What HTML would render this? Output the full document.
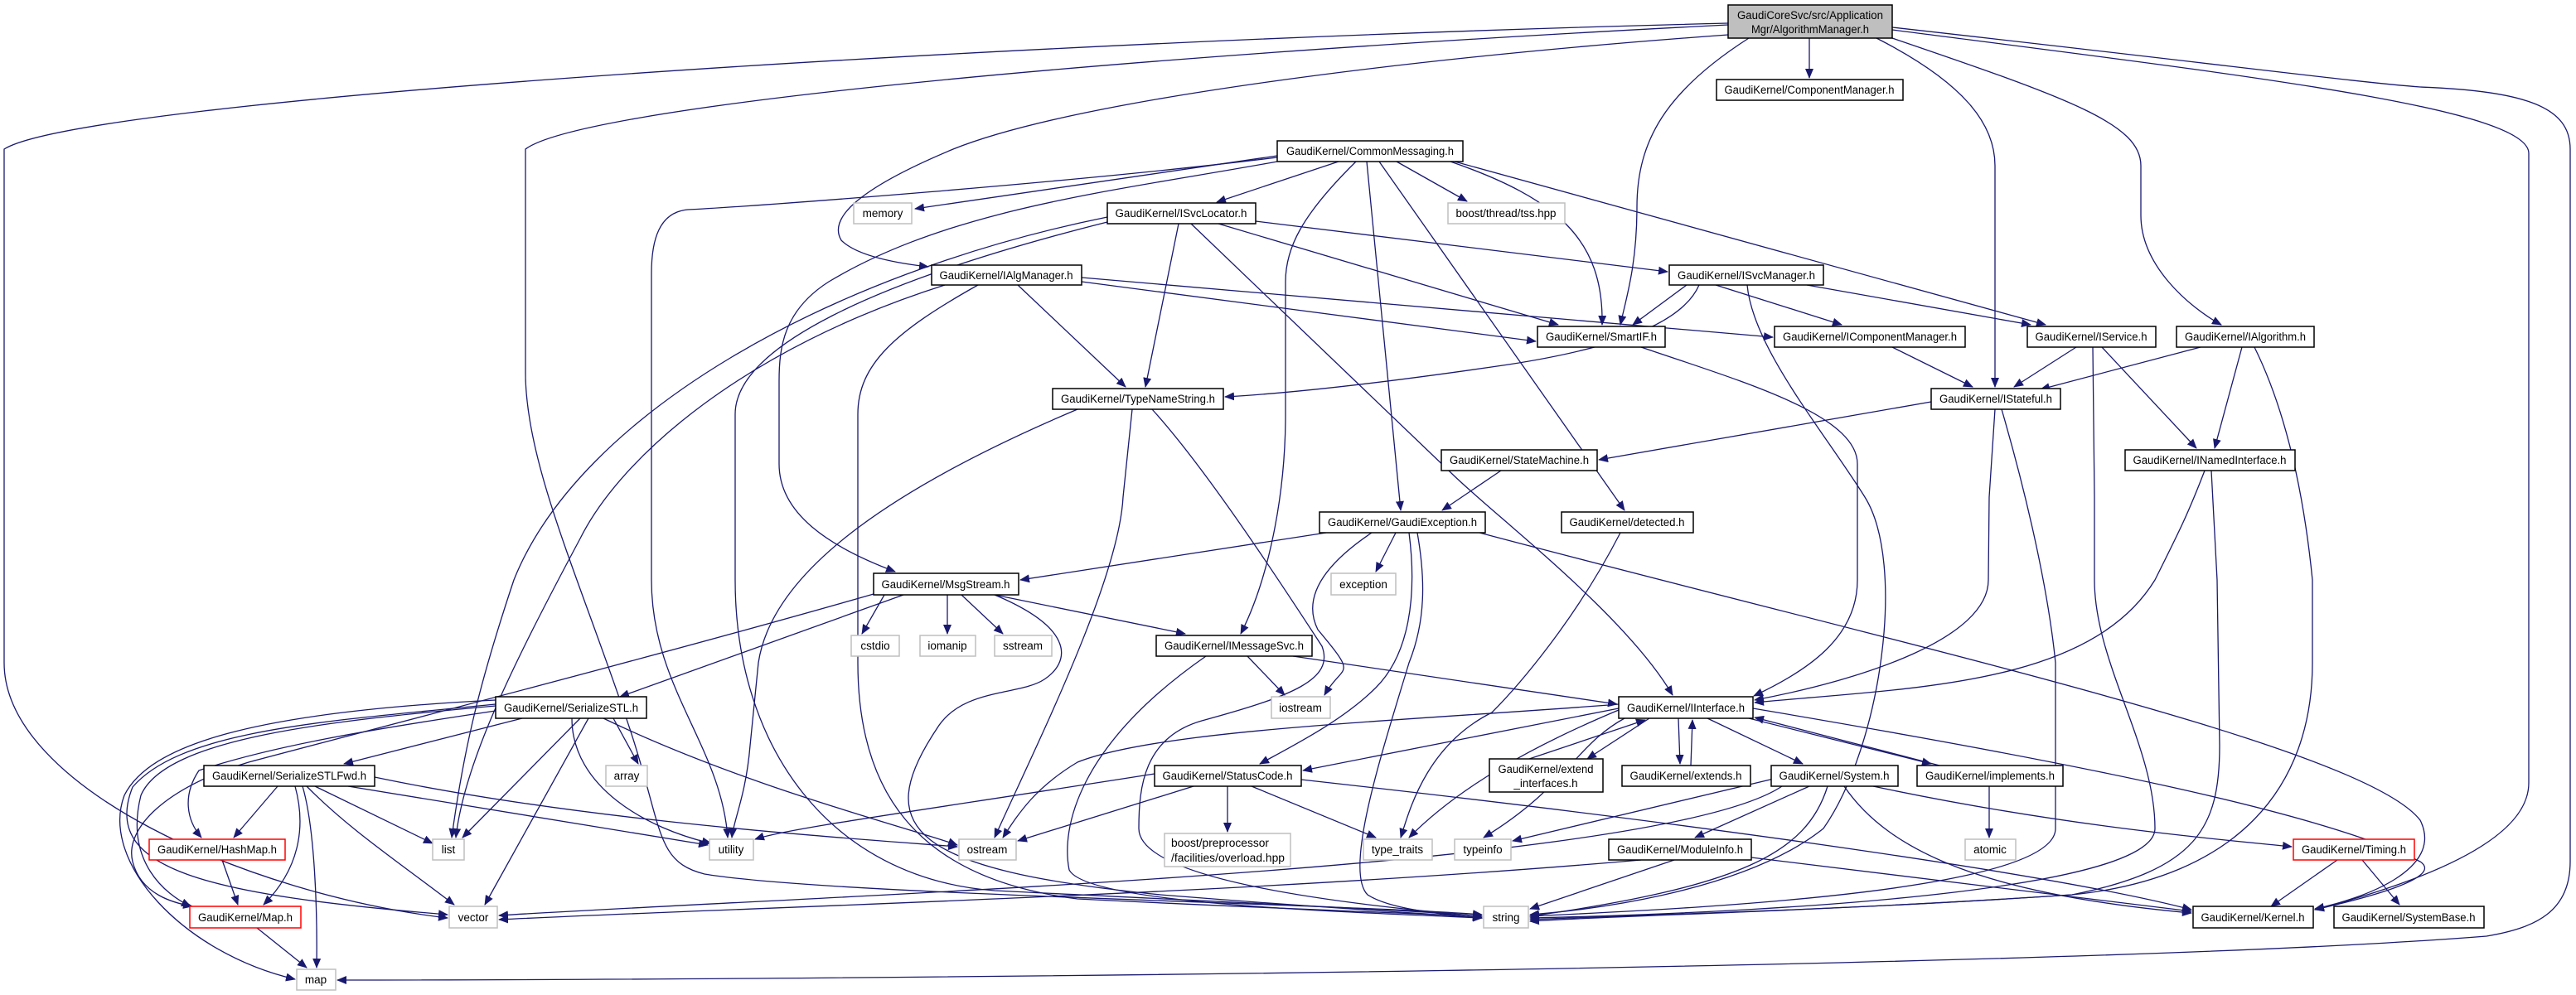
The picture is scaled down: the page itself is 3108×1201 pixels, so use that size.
<!DOCTYPE html>
<html><head><meta charset="utf-8"><style>
html,body{margin:0;padding:0;background:#fff;}
svg{display:block;}
text{font-family:"Liberation Sans",sans-serif;font-size:13.5px;fill:#000;}
.e{fill:none;stroke:#191970;stroke-width:1.3;marker-end:url(#a);}
.n{fill:#fff;stroke:#000;stroke-width:1.5;}
.g{fill:#fff;stroke:#bfbfbf;stroke-width:1.5;}
.r{fill:#fff;stroke:#ff0000;stroke-width:1.5;}
</style></head><body>
<svg width="3108" height="1201" viewBox="0 0 3108 1201" xmlns="http://www.w3.org/2000/svg">
<defs><marker id="a" markerWidth="12" markerHeight="10" refX="11" refY="5" orient="auto" markerUnits="userSpaceOnUse"><path d="M0,0 L12,5 L0,10 z" fill="#191970"/></marker></defs>
<g>
<!-- root -->
<path class="e" d="M2183,46 L2183,94"/>
<path class="e" d="M2110,46 C2010,110 1975,170 1975,250 C1975,320 1962,360 1955,392"/>
<path class="e" d="M2264,46 C2370,100 2407,150 2407,200 L2407,467"/>
<path class="e" d="M2283,46 C2500,120 2583,150 2583,200 L2583,260 C2583,320 2640,370 2680,392"/>
<path class="e" d="M2283,36 C2700,90 3051,130 3051,185 L3051,945 C3051,1020 2900,1070 2793,1098"/>
<path class="e" d="M2283,33 C2700,80 2850,100 2920,105 C3050,110 3101,130 3101,180 L3101,1040 C3101,1100 3060,1120 3000,1130 C2500,1170 1000,1183 407,1183"/>
<path class="e" d="M2085,28 C1200,50 100,120 5,180 L5,800 C5,950 300,1080 540,1108"/>
<path class="e" d="M2085,30 C1300,70 700,130 634,180 L634,450 C634,560 700,700 760,880 C800,1000 790,1040 850,1055 C1000,1080 1600,1090 1788,1104"/>
<path class="e" d="M2085,42 C1700,70 1300,120 1150,180 C1030,230 1000,265 1015,290 C1035,310 1085,318 1120,322"/>
<!-- CommonMessaging -->
<path class="e" d="M1541,188 L1104,252"/>
<path class="e" d="M1615,195 L1468,244"/>
<path class="e" d="M1685,195 L1770,243"/>
<path class="e" d="M1750,195 C1880,240 1935,290 1933,392"/>
<path class="e" d="M1755,195 L2468,392"/>
<path class="e" d="M1649,195 L1690,616"/>
<path class="e" d="M1664,195 L1960,616"/>
<path class="e" d="M1636,195 C1570,260 1551,300 1551,340 L1551,500 C1551,600 1530,700 1497,765"/>
<path class="e" d="M1541,190 C1300,220 900,250 830,253 C795,256 786,290 786,330 L786,700 C786,830 870,900 878,1011"/>
<path class="e" d="M1541,195 C1350,230 1150,250 1000,340 C945,375 940,420 940,460 L940,560 C940,620 1000,660 1080,690"/>
<!-- ISvcLocator -->
<path class="e" d="M1515,267 L2012,328"/>
<path class="e" d="M1470,270 L1880,392"/>
<path class="e" d="M1422,270 L1382,467"/>
<path class="e" d="M1437,270 L1750,570 C1800,620 1960,740 2018,839"/>
<path class="e" d="M1336,262 C1000,330 700,500 620,700 C580,820 560,900 545,1011"/>
<path class="e" d="M1336,268 C1050,340 887,420 887,500 L887,700 C887,900 1000,1060 1200,1075 C1500,1090 1700,1098 1788,1106"/>
<!-- IAlgManager -->
<path class="e" d="M1140,344 C900,420 750,550 700,650 C620,800 560,920 550,1011"/>
<path class="e" d="M1180,344 C1080,400 1035,440 1035,500 L1035,800 C1035,950 1100,1060 1300,1085 C1600,1100 1750,1103 1788,1108"/>
<path class="e" d="M1305,340 L1853,412"/>
<path class="e" d="M1305,335 L2139,407"/>
<path class="e" d="M1228,344 L1358,467"/>
<!-- TypeNameString -->
<path class="e" d="M1300,494 C1050,600 930,700 915,800 L905,900 C900,960 885,990 883,1011"/>
<path class="e" d="M1366,494 L1355,600 C1350,700 1250,900 1200,1011"/>
<path class="e" d="M1390,494 C1450,560 1530,680 1595,780 C1610,820 1560,840 1450,870 C1380,890 1374,950 1374,1000 C1374,1060 1600,1090 1788,1106"/>
<!-- ISvcManager -->
<path class="e" d="M2035,344 L1970,392"/>
<path class="e" d="M2070,344 L2222,392"/>
<path class="e" d="M2180,344 L2450,392"/>
<path class="e" d="M2050,344 C2030,390 1950,420 1820,440 C1650,465 1550,475 1478,479"/>
<path class="e" d="M2108,344 C2115,420 2200,520 2250,600 C2300,680 2270,900 2200,1000 C2100,1080 1900,1100 1846,1104"/>
<!-- SmartIF etc -->
<path class="e" d="M1980,419 C2100,460 2241,500 2241,560 L2241,700 C2241,770 2180,810 2116,840"/>
<path class="e" d="M2407,494 L2400,600 L2399,700 C2399,770 2250,820 2117,845"/>
<path class="e" d="M2660,568 C2640,620 2630,640 2600,700 C2520,830 2300,830 2117,848"/>
<path class="e" d="M2330,485 L1929,555"/>
<path class="e" d="M2415,494 C2440,580 2470,700 2480,800 L2480,1000 C2480,1080 2000,1098 1846,1106"/>
<path class="e" d="M2283,419 L2380,467"/>
<path class="e" d="M2505,419 L2430,467"/>
<path class="e" d="M2536,419 L2650,541"/>
<path class="e" d="M2525,419 L2527,600 L2527,700 C2527,800 2600,900 2600,1000 C2600,1070 2200,1100 1846,1108"/>
<path class="e" d="M2655,419 L2462,470"/>
<path class="e" d="M2705,419 L2672,541"/>
<path class="e" d="M2720,419 C2760,500 2780,600 2790,700 L2790,800 C2790,950 2700,1060 2500,1080 C2200,1100 1950,1105 1846,1110"/>
<path class="e" d="M2668,568 L2675,700 L2678,900 C2678,1000 2650,1050 2500,1080 C2200,1100 1950,1105 1846,1112"/>
<path class="e" d="M1811,568 L1740,616"/>
<path class="e" d="M1955,643 C1900,750 1830,830 1800,860 C1720,900 1700,980 1690,1011"/>
<!-- GaudiException -->
<path class="e" d="M1600,643 L1231,700"/>
<path class="e" d="M1684,643 L1660,690"/>
<path class="e" d="M1655,643 C1600,680 1570,720 1590,760 C1640,820 1620,800 1598,839"/>
<path class="e" d="M1700,643 C1710,720 1700,790 1660,830 C1620,870 1560,900 1520,922"/>
<path class="e" d="M1710,643 C1720,700 1720,750 1700,800 C1670,900 1620,1050 1650,1080 C1680,1100 1760,1105 1788,1108"/>
<path class="e" d="M1785,643 C2300,780 2850,900 2920,990 C2950,1050 2850,1085 2793,1097"/>
<!-- MsgStream -->
<path class="e" d="M1067,718 L1040,765"/>
<path class="e" d="M1143,718 L1143,765"/>
<path class="e" d="M1160,718 L1210,765"/>
<path class="e" d="M1200,718 L1430,765"/>
<path class="e" d="M1090,718 L748,841"/>
<path class="e" d="M1200,718 C1300,760 1290,800 1260,820 C1230,840 1160,830 1130,880 C1050,1000 1100,1050 1400,1080 C1650,1100 1750,1104 1788,1108"/>
<path class="e" d="M1054,717 C800,790 450,880 300,920 C200,950 150,1000 160,1040 C170,1080 210,1090 232,1094"/>
<!-- IMessageSvc -->
<path class="e" d="M1505,792 L1550,839"/>
<path class="e" d="M1560,792 L1951,850"/>
<path class="e" d="M1455,792 C1300,900 1280,1000 1290,1050 C1310,1090 1600,1100 1788,1108"/>
<!-- IInterface -->
<path class="e" d="M1953,850 C1700,870 1400,880 1300,920 C1250,950 1230,980 1210,1011"/>
<path class="e" d="M1953,855 L1572,930"/>
<path class="e" d="M1953,857 C1850,900 1760,950 1700,1011"/>
<path class="e" d="M1960,867 C1900,900 1890,950 1790,1011"/>
<path class="e" d="M1990,867 L1915,916"/>
<path class="e" d="M1845,916 L1985,869"/>
<path class="e" d="M2025,867 L2027,922"/>
<path class="e" d="M2040,924 L2042,869"/>
<path class="e" d="M2060,867 L2175,922"/>
<path class="e" d="M2110,867 L2330,922"/>
<path class="e" d="M2340,924 L2117,866"/>
<path class="e" d="M2115,855 C2500,920 2800,980 2920,1040 C2950,1060 2850,1085 2793,1098"/>
<!-- StatusCode -->
<path class="e" d="M1393,934 C1100,980 950,1000 911,1013"/>
<path class="e" d="M1440,949 L1228,1015"/>
<path class="e" d="M1481,949 L1481,1004"/>
<path class="e" d="M1510,949 L1660,1011"/>
<path class="e" d="M1570,941 C2100,1000 2500,1060 2644,1098"/>
<!-- System -->
<path class="e" d="M2140,940 L1825,1015"/>
<path class="e" d="M2183,949 L2045,1011"/>
<path class="e" d="M2150,949 C2000,1050 1000,1080 602,1105"/>
<path class="e" d="M2205,949 C2180,1030 2100,1070 1846,1106"/>
<path class="e" d="M2225,949 C2280,1030 2400,1080 2644,1102"/>
<path class="e" d="M2260,949 C2500,1000 2700,1015 2765,1022"/>
<path class="e" d="M2400,949 L2400,1011"/>
<!-- ModuleInfo / Timing -->
<path class="e" d="M1980,1038 C1500,1080 900,1095 602,1110"/>
<path class="e" d="M2020,1038 L1846,1097"/>
<path class="e" d="M2113,1035 L2644,1100"/>
<path class="e" d="M2820,1038 L2740,1094"/>
<path class="e" d="M2850,1038 L2895,1092"/>
<!-- SerializeSTL -->
<path class="e" d="M630,867 L415,922"/>
<path class="e" d="M740,867 L770,922"/>
<path class="e" d="M700,867 L558,1011"/>
<path class="e" d="M710,867 L585,1092"/>
<path class="e" d="M690,867 C690,950 780,1000 858,1018"/>
<path class="e" d="M728,867 C900,950 1100,1000 1155,1020"/>
<path class="e" d="M598,858 C450,880 330,900 240,930 C220,960 225,990 243,1011"/>
<path class="e" d="M598,852 C400,870 200,890 170,960 C150,1040 200,1080 230,1094"/>
<path class="e" d="M598,845 C300,860 180,900 150,960 C120,1040 220,1150 356,1182"/>
<path class="e" d="M598,850 C400,870 220,880 160,950 C120,1050 250,1080 540,1104"/>
<!-- SerializeSTLFwd -->
<path class="e" d="M335,949 L282,1011"/>
<path class="e" d="M356,949 C370,1000 360,1050 318,1092"/>
<path class="e" d="M365,949 C380,1000 383,1100 382,1168"/>
<path class="e" d="M380,949 L522,1018"/>
<path class="e" d="M370,949 C420,1000 480,1040 548,1092"/>
<path class="e" d="M420,949 L854,1020"/>
<path class="e" d="M452,938 C700,990 1000,1010 1155,1022"/>
<path class="e" d="M268,1038 L287,1092"/>
<path class="e" d="M310,1120 L370,1168"/>
</g>
<g>
<rect x="2085" y="6" width="198" height="40" fill="#bfbfbf" stroke="#000" stroke-width="1.5"/>
<text x="2184" y="23" text-anchor="middle" textLength="176" lengthAdjust="spacingAndGlyphs">GaudiCoreSvc/src/Application</text>
<text x="2184" y="40" text-anchor="middle" textLength="142" lengthAdjust="spacingAndGlyphs">Mgr/AlgorithmManager.h</text>

<rect class="n" x="2071" y="96" width="225" height="25"/><text x="2183" y="113" text-anchor="middle" textLength="205" lengthAdjust="spacingAndGlyphs">GaudiKernel/ComponentManager.h</text>
<rect class="n" x="1541" y="170" width="224" height="25"/><text x="1653" y="187" text-anchor="middle" textLength="202" lengthAdjust="spacingAndGlyphs">GaudiKernel/CommonMessaging.h</text>
<rect class="n" x="1336" y="245" width="179" height="25"/><text x="1425" y="262" text-anchor="middle" textLength="159" lengthAdjust="spacingAndGlyphs">GaudiKernel/ISvcLocator.h</text>
<rect class="g" x="1747" y="245" width="141" height="25"/><text x="1817" y="262" text-anchor="middle" textLength="121" lengthAdjust="spacingAndGlyphs">boost/thread/tss.hpp</text>
<rect class="g" x="1030" y="245" width="70" height="25"/><text x="1065" y="262" text-anchor="middle">memory</text>
<rect class="n" x="1124" y="320" width="181" height="24"/><text x="1214" y="337" text-anchor="middle" textLength="161" lengthAdjust="spacingAndGlyphs">GaudiKernel/IAlgManager.h</text>
<rect class="n" x="2014" y="320" width="186" height="24"/><text x="2107" y="337" text-anchor="middle" textLength="166" lengthAdjust="spacingAndGlyphs">GaudiKernel/ISvcManager.h</text>
<rect class="n" x="1855" y="394" width="154" height="25"/><text x="1932" y="411" text-anchor="middle" textLength="134" lengthAdjust="spacingAndGlyphs">GaudiKernel/SmartIF.h</text>
<rect class="n" x="2141" y="394" width="230" height="25"/><text x="2256" y="411" text-anchor="middle" textLength="210" lengthAdjust="spacingAndGlyphs">GaudiKernel/IComponentManager.h</text>
<rect class="n" x="2446" y="394" width="155" height="25"/><text x="2523" y="411" text-anchor="middle" textLength="135" lengthAdjust="spacingAndGlyphs">GaudiKernel/IService.h</text>
<rect class="n" x="2626" y="394" width="166" height="25"/><text x="2709" y="411" text-anchor="middle" textLength="146" lengthAdjust="spacingAndGlyphs">GaudiKernel/IAlgorithm.h</text>
<rect class="n" x="1270" y="469" width="206" height="25"/><text x="1373" y="486" text-anchor="middle" textLength="186" lengthAdjust="spacingAndGlyphs">GaudiKernel/TypeNameString.h</text>
<rect class="n" x="2330" y="469" width="156" height="25"/><text x="2408" y="486" text-anchor="middle" textLength="136" lengthAdjust="spacingAndGlyphs">GaudiKernel/IStateful.h</text>
<rect class="n" x="1739" y="543" width="188" height="25"/><text x="1833" y="560" text-anchor="middle" textLength="168" lengthAdjust="spacingAndGlyphs">GaudiKernel/StateMachine.h</text>
<rect class="n" x="2564" y="543" width="205" height="25"/><text x="2666" y="560" text-anchor="middle" textLength="185" lengthAdjust="spacingAndGlyphs">GaudiKernel/INamedInterface.h</text>
<rect class="n" x="1592" y="618" width="200" height="25"/><text x="1692" y="635" text-anchor="middle" textLength="180" lengthAdjust="spacingAndGlyphs">GaudiKernel/GaudiException.h</text>
<rect class="n" x="1884" y="618" width="159" height="25"/><text x="1963" y="635" text-anchor="middle" textLength="139" lengthAdjust="spacingAndGlyphs">GaudiKernel/detected.h</text>
<rect class="n" x="1054" y="692" width="175" height="26"/><text x="1141" y="710" text-anchor="middle" textLength="155" lengthAdjust="spacingAndGlyphs">GaudiKernel/MsgStream.h</text>
<rect class="g" x="1606" y="692" width="78" height="26"/><text x="1645" y="710" text-anchor="middle">exception</text>
<rect class="g" x="1027" y="767" width="58" height="25"/><text x="1056" y="784" text-anchor="middle">cstdio</text>
<rect class="g" x="1110" y="767" width="67" height="25"/><text x="1143" y="784" text-anchor="middle">iomanip</text>
<rect class="g" x="1200" y="767" width="69" height="25"/><text x="1234" y="784" text-anchor="middle">sstream</text>
<rect class="n" x="1395" y="767" width="188" height="25"/><text x="1489" y="784" text-anchor="middle" textLength="168" lengthAdjust="spacingAndGlyphs">GaudiKernel/IMessageSvc.h</text>
<rect class="g" x="1534" y="841" width="71" height="26"/><text x="1569" y="859" text-anchor="middle">iostream</text>
<rect class="n" x="1953" y="841" width="162" height="26"/><text x="2034" y="859" text-anchor="middle" textLength="142" lengthAdjust="spacingAndGlyphs">GaudiKernel/IInterface.h</text>
<rect class="n" x="598" y="841" width="182" height="26"/><text x="689" y="859" text-anchor="middle" textLength="162" lengthAdjust="spacingAndGlyphs">GaudiKernel/SerializeSTL.h</text>
<rect class="n" x="1393" y="924" width="177" height="25"/><text x="1481" y="941" text-anchor="middle" textLength="157" lengthAdjust="spacingAndGlyphs">GaudiKernel/StatusCode.h</text>
<rect class="n" x="1797" y="916" width="137" height="40"/><text x="1865" y="933" text-anchor="middle" textLength="115" lengthAdjust="spacingAndGlyphs">GaudiKernel/extend</text><text x="1865" y="950" text-anchor="middle">_interfaces.h</text>
<rect class="n" x="1957" y="924" width="155" height="25"/><text x="2034" y="941" text-anchor="middle" textLength="135" lengthAdjust="spacingAndGlyphs">GaudiKernel/extends.h</text>
<rect class="n" x="2137" y="924" width="153" height="25"/><text x="2213" y="941" text-anchor="middle" textLength="133" lengthAdjust="spacingAndGlyphs">GaudiKernel/System.h</text>
<rect class="n" x="2313" y="924" width="176" height="25"/><text x="2401" y="941" text-anchor="middle" textLength="156" lengthAdjust="spacingAndGlyphs">GaudiKernel/implements.h</text>
<rect class="n" x="246" y="924" width="206" height="25"/><text x="349" y="941" text-anchor="middle" textLength="186" lengthAdjust="spacingAndGlyphs">GaudiKernel/SerializeSTLFwd.h</text>
<rect class="g" x="731" y="924" width="50" height="25"/><text x="756" y="941" text-anchor="middle">array</text>
<rect class="r" x="180" y="1013" width="164" height="25"/><text x="262" y="1030" text-anchor="middle" textLength="144" lengthAdjust="spacingAndGlyphs">GaudiKernel/HashMap.h</text>
<rect class="g" x="522" y="1013" width="38" height="25"/><text x="541" y="1030" text-anchor="middle">list</text>
<rect class="g" x="856" y="1013" width="53" height="25"/><text x="882" y="1030" text-anchor="middle">utility</text>
<rect class="g" x="1157" y="1013" width="69" height="25"/><text x="1191" y="1030" text-anchor="middle">ostream</text>
<rect class="g" x="1405" y="1006" width="152" height="40"/><text x="1413" y="1022" textLength="118" lengthAdjust="spacingAndGlyphs">boost/preprocessor</text><text x="1413" y="1040" textLength="137" lengthAdjust="spacingAndGlyphs">/facilities/overload.hpp</text>
<rect class="g" x="1645" y="1013" width="83" height="25"/><text x="1686" y="1030" text-anchor="middle">type_traits</text>
<rect class="g" x="1755" y="1013" width="68" height="25"/><text x="1789" y="1030" text-anchor="middle">typeinfo</text>
<rect class="n" x="1941" y="1013" width="172" height="25"/><text x="2027" y="1030" text-anchor="middle" textLength="152" lengthAdjust="spacingAndGlyphs">GaudiKernel/ModuleInfo.h</text>
<rect class="g" x="2371" y="1013" width="61" height="25"/><text x="2401" y="1030" text-anchor="middle">atomic</text>
<rect class="r" x="2767" y="1013" width="146" height="25"/><text x="2840" y="1030" text-anchor="middle" textLength="126" lengthAdjust="spacingAndGlyphs">GaudiKernel/Timing.h</text>
<rect class="r" x="229" y="1094" width="134" height="26"/><text x="296" y="1112" text-anchor="middle" textLength="114" lengthAdjust="spacingAndGlyphs">GaudiKernel/Map.h</text>
<rect class="g" x="542" y="1094" width="58" height="26"/><text x="571" y="1112" text-anchor="middle">vector</text>
<rect class="g" x="1790" y="1094" width="54" height="26"/><text x="1817" y="1112" text-anchor="middle">string</text>
<rect class="n" x="2646" y="1094" width="145" height="26"/><text x="2718" y="1112" text-anchor="middle" textLength="125" lengthAdjust="spacingAndGlyphs">GaudiKernel/Kernel.h</text>
<rect class="n" x="2816" y="1094" width="181" height="26"/><text x="2906" y="1112" text-anchor="middle" textLength="161" lengthAdjust="spacingAndGlyphs">GaudiKernel/SystemBase.h</text>
<rect class="g" x="358" y="1170" width="47" height="25"/><text x="381" y="1187" text-anchor="middle">map</text>
</g>
</svg>
</body></html>
